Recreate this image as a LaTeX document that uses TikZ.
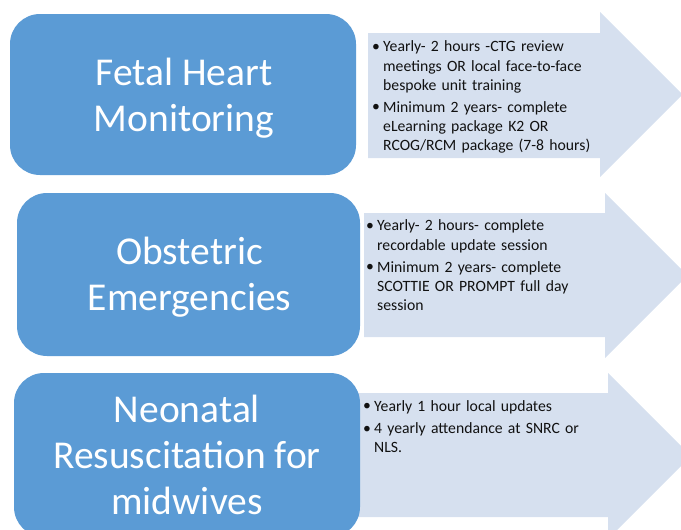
\documentclass[tikz,border=0pt]{standalone}
\usepackage{fontspec}
\setmainfont{Carlito}
\definecolor{topicblue}{HTML}{5B9BD5}
\definecolor{notefill}{HTML}{D6E0EF}
\definecolor{notetext}{HTML}{111111}
% one bullet item with a hanging indent; lines are broken by hand
\newcommand{\bulletitem}[1]{\par\hyphenpenalty=10000\hangindent=12pt\hangafter=1\noindent\makebox[12pt][l]{\hspace{1pt}\raisebox{0.5pt}{\textbullet}}#1\par\vspace{3pt}}
\begin{document}
\begin{tikzpicture}[x=1pt,y=-1pt,
  topic/.style={rounded corners=30pt, fill=topicblue, inner sep=0pt},
  topictext/.style={text=white, align=center, inner sep=0pt,
    font=\fontsize{39.5}{46}\selectfont},
  noteshape/.style={fill=notefill},
  notes/.style={anchor=north west, inner sep=0pt, text width=280pt, align=left,
    text=notetext, font=\fontsize{15.7}{19.2}\selectfont}]
\useasboundingbox (0,0) rectangle (681,530);
\begin{scope}
\clip (0,0) rectangle (681,530);
% block arrows behind the topic boxes
\fill[noteshape] (368,33) -- (600,33) -- (600,12) -- (682.5,94.5) -- (600,177) -- (600,158) -- (368,158) -- cycle;
\fill[noteshape] (364,213) -- (605,213) -- (605,193) -- (687.5,275.5) -- (605,358) -- (605,337) -- (364,337) -- cycle;
\fill[noteshape] (358,393) -- (608,393) -- (608,373) -- (691,456) -- (608,539) -- (608,517) -- (358,517) -- cycle;
% topic boxes
\node[topic, minimum width=346pt, minimum height=161pt] (fhm) at (183,94.5) {};
\node[topic, minimum width=343pt, minimum height=163pt] (obs) at (188.5,274.5) {};
\node[topic, minimum width=346pt, minimum height=164pt] (neo) at (187,455) {};
\end{scope}
% topic titles
\node[topictext] (fhmtitle) at (184,98.5) {Fetal Heart\\Monitoring};
\node[topictext] (obstitle) at (189.5,277.5) {Obstetric\\Emergencies};
\node[topictext] (neotitle) at (187,455) {Neonatal\\Resuscitation for\\midwives};
% training requirements
\node[notes] (fhmnotes) at (371,32.5) {%
  \bulletitem{Yearly- 2 hours -CTG review\newline meetings OR local face-to-face\newline bespoke unit training}%
  \bulletitem{Minimum 2 years- complete\newline eLearning package K2 OR\newline RCOG/RCM package (7-8 hours)}};
\node[notes] (obsnotes) at (365,211.5) {%
  \bulletitem{Yearly- 2 hours- complete\newline recordable update session}%
  \bulletitem{Minimum 2 years- complete\newline SCOTTIE OR PROMPT full day\newline session}};
\node[notes] (neonotes) at (362,392) {%
  \bulletitem{Yearly 1 hour local updates}%
  \bulletitem{4 yearly attendance at SNRC or\newline NLS.}};
\end{tikzpicture}
\end{document}
